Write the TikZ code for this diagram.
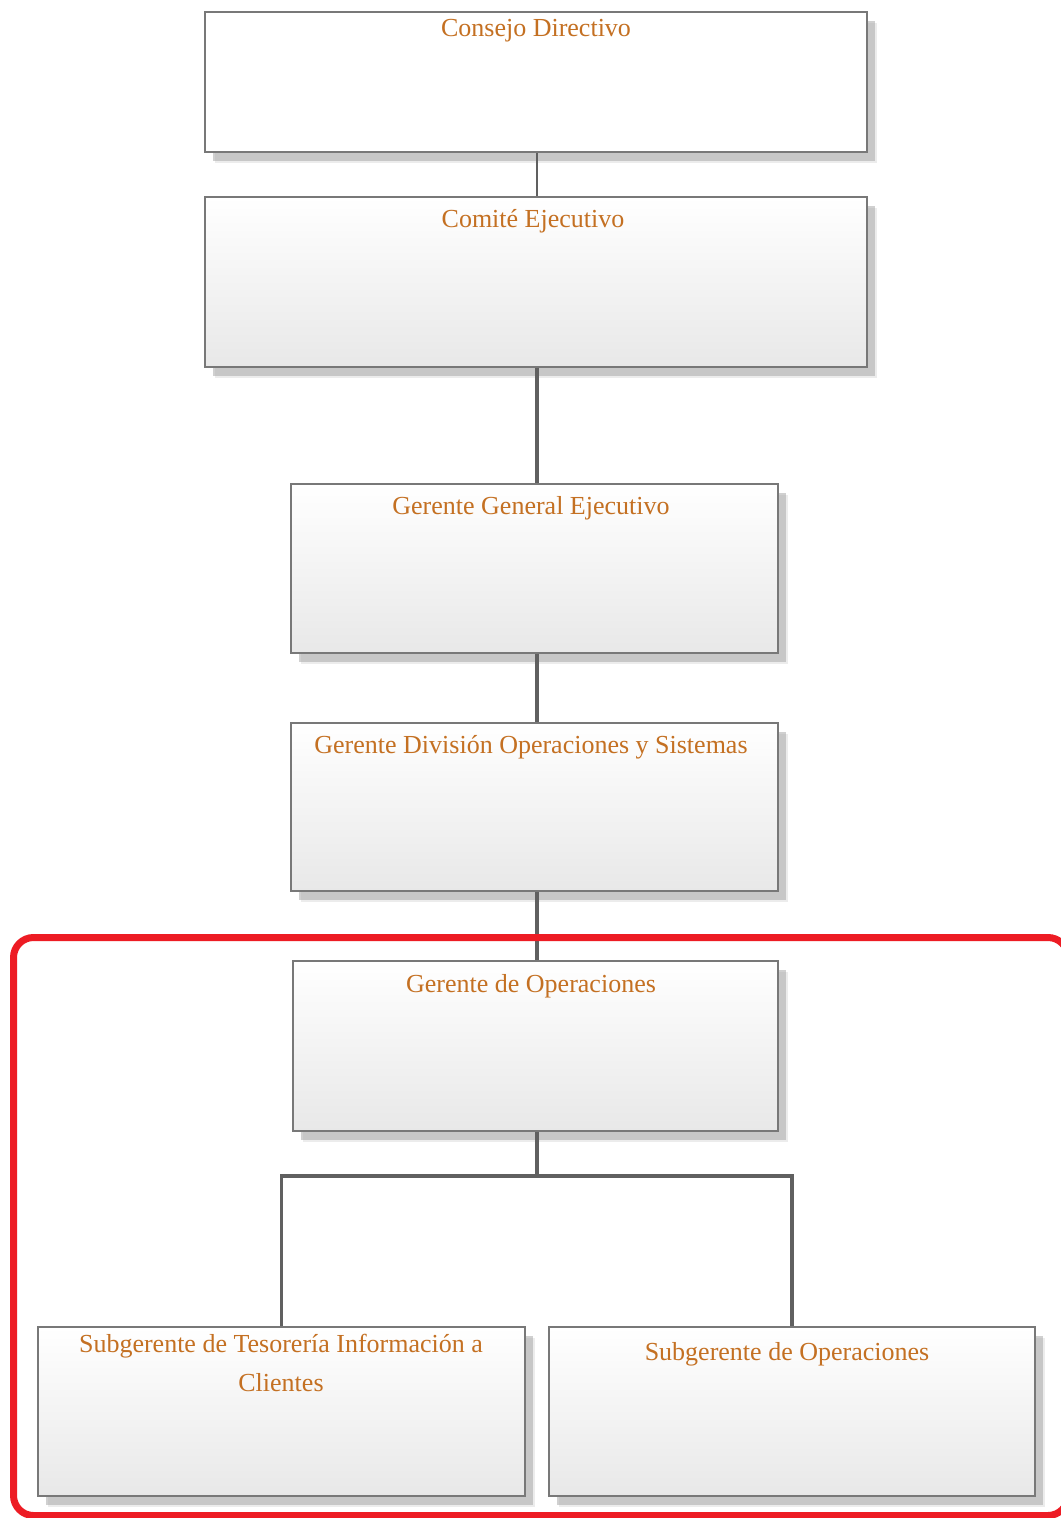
\documentclass[tikz,border=0pt]{standalone}
\usepackage{fontspec}
\setmainfont{Liberation Serif}
\usetikzlibrary{shadows}
\definecolor{titlecol}{RGB}{196,112,34}
\definecolor{framered}{RGB}{237,28,36}
\definecolor{linkgray}{RGB}{96,96,96}
\definecolor{boxedge}{RGB}{120,120,120}
\begin{document}
\begin{tikzpicture}[x=0.5pt,y=-0.5pt,
  orgbox/.style={rectangle, draw=boxedge, line width=0.8pt, inner sep=0pt,
    top color=white, middle color=white, bottom color=black!9,
    drop shadow={shadow xshift=5pt, shadow yshift=-5.5pt, fill=black!14},
    drop shadow={shadow xshift=4pt, shadow yshift=-4.5pt, fill=black!36}},
  plainbox/.style={orgbox, top color=white, middle color=white, bottom color=white},
  wide/.style={minimum width=331pt},
  narrow/.style={minimum width=243.5pt},
  title/.style={anchor=base, text=titlecol, align=center, inner sep=0pt,
    font=\fontsize{13}{19.5}\selectfont},
  link/.style={draw=linkgray, line width=1.9pt},
  thinlink/.style={draw=linkgray, line width=1.1pt}
]
\useasboundingbox (0,0) rectangle (1060,1518);
\fill[white] (0,0) rectangle (1060,1518);

% boxes of the chart
\node[plainbox, wide, minimum height=70pt]   (b1) at (536,82) {};
\node[orgbox, wide, minimum height=85pt]     (b2) at (536,282) {};
\node[orgbox, narrow, minimum height=84.5pt] (b3) at (534.5,568.5) {};
\node[orgbox, narrow, minimum height=84pt]   (b4) at (534.5,807) {};
\node[orgbox, minimum width=242.5pt, minimum height=85pt] (b5) at (535.5,1046) {};
\node[orgbox, narrow, minimum height=84.5pt] (b6) at (281.5,1411.5) {};
\node[orgbox, minimum width=243pt, minimum height=84.5pt] (b7) at (792,1411.5) {};

% titles
\node[title] (t1) at (536,37)  {Consejo Directivo};
\node[title] (t2) at (533,228) {Comité Ejecutivo};
\node[title] (t3) at (531,514) {Gerente General Ejecutivo};
\node[title] (t4) at (531,753) {Gerente División Operaciones y Sistemas};
\node[title] (t5) at (531,992) {Gerente de Operaciones};
\node[title] (t6) at (281,1391) {Subgerente de Tesorería Información a\\Clientes};
\node[title] (t7) at (787,1360) {Subgerente de Operaciones};

% reporting lines (vertical trunk)
\coordinate (trunk) at (537,0);
\draw[thinlink] (b1.south -| trunk) -- (b2.north -| trunk);
\draw[link] (b2.south -| trunk) -- (b3.north -| trunk);
\draw[link] (b3.south -| trunk) -- (b4.north -| trunk);
\draw[link] (b4.south -| trunk) -- (b5.north -| trunk);
\coordinate (fork) at (537,1176);
\draw[link] (b5.south -| trunk) -- (fork);
\draw[link, line width=1.6pt] (b6.north) |- (fork) -| (b7.north);

% highlight frame around the operations area
\draw[framered, line width=3.5pt, rounded corners=10pt]
  (13.5,937.5) rectangle (1068,1515.5);
\end{tikzpicture}
\end{document}
